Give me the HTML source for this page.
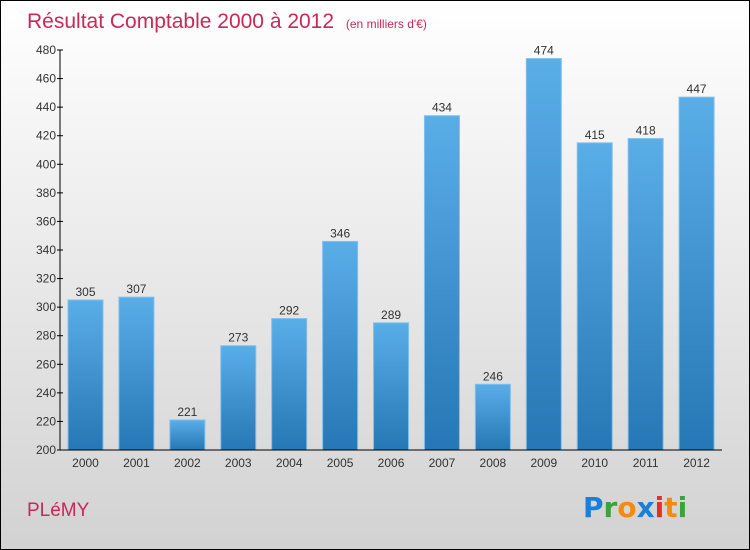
<!DOCTYPE html>
<html><head><meta charset="utf-8"><style>
body{margin:0}
#c{position:relative;width:748px;height:548px;border:1px solid #000;background:linear-gradient(#ffffff,#d2d2d2);font-family:"Liberation Sans",sans-serif;overflow:hidden}
</style></head><body>
<div id="c">
<svg id="s" width="748" height="548">
<defs><linearGradient id="g" x1="0" y1="0" x2="0" y2="1"><stop offset="0" stop-color="#5aaee8"/><stop offset="1" stop-color="#2677b5"/></linearGradient></defs>
<text x="26" y="27" font-size="21" fill="#c8285a">Résultat Comptable 2000 à 2012 <tspan font-size="12" dx="6">(en milliers d'€)</tspan></text>
<text x="26" y="515" font-size="19" fill="#c8285a">PLéMY</text>
<g font-size="28" font-weight="bold" font-family="'DejaVu Sans',sans-serif">
<text x="582" y="516"><tspan fill="#1a7fd6">P</tspan><tspan fill="#3aa33a">r</tspan><tspan fill="#f58a12">o</tspan><tspan fill="#1a7fd6">x</tspan><tspan fill="#e53020">i</tspan><tspan fill="#f58a12">t</tspan><tspan fill="#3aa33a">i</tspan></text></g>
<g id="plot"></g>
</svg></div>
<script>
const categories=["2000","2001","2002","2003","2004","2005","2006","2007","2008","2009","2010","2011","2012"];
const values=[305,307,221,273,292,346,289,434,246,474,415,418,447];
const yTicks=[200,220,240,260,280,300,320,340,360,380,400,420,440,460,480];
const ns="http://www.w3.org/2000/svg",p=document.getElementById('plot');
const x0=59,x1=721,yTop=49,yBot=449,yMin=200,yMax=480;
const y=v=>yBot-(v-yMin)/(yMax-yMin)*(yBot-yTop);
const step=(x1-x0)/categories.length;
function el(t,a,txt){const e=document.createElementNS(ns,t);for(const k in a)e.setAttribute(k,a[k]);if(txt!=null)e.textContent=txt;p.appendChild(e);return e;}
categories.forEach((c,i)=>{
 const bx=x0+i*step+8,bw=35,by=y(values[i]);
 const r=el('rect',{x:bx,y:by,width:bw,height:yBot-by,fill:'url(#g)',stroke:'#7fc0ee','stroke-width':1});
 
 
 const t=el('text',{x:bx+bw/2,y:by-4,'text-anchor':'middle','font-size':12,fill:'#333'},values[i]);
 
 
 const xl=el('text',{x:bx+bw/2,y:466,'text-anchor':'middle','font-size':12,fill:'#333'},c);
 
 
});
yTicks.forEach(v=>{
 const tk=el('line',{x1:x0-3,x2:x0+3,y1:y(v),y2:y(v),stroke:'#000'});
 
 
 const tl=el('text',{x:x0-4,y:y(v)+4,'text-anchor':'end','font-size':12,fill:'#333'},v);
 
 
});
const ya=el('line',{x1:x0,x2:x0,y1:yTop,y2:yBot,stroke:'#000'});


const xa=el('line',{x1:x0,x2:x1,y1:yBot,y2:yBot,stroke:'#000'});


</script>
</body></html>
